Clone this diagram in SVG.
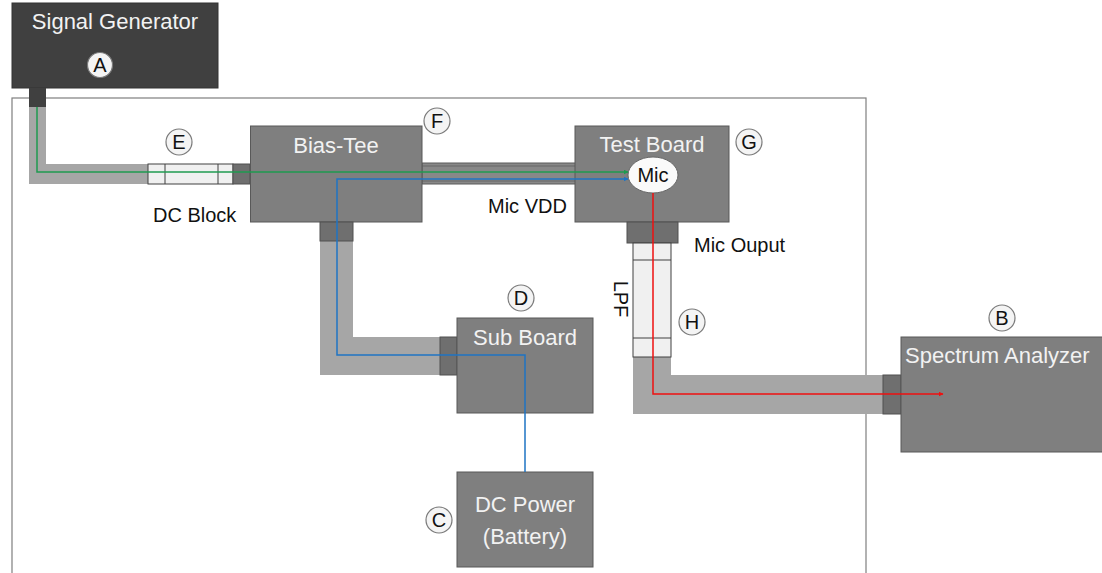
<svg xmlns="http://www.w3.org/2000/svg" width="1102" height="573" viewBox="0 0 1102 573">
<style>
.box{fill:#7f7f7f;stroke:#595959;stroke-width:1}
.dark{fill:#404040;stroke:#333;stroke-width:1}
.stub{fill:#6f6f6f;stroke:#505050;stroke-width:1}
.cable{fill:#a6a6a6}
.filt{fill:#f0f0f0;stroke:#404040;stroke-width:1}
.lbl{font-family:"Liberation Sans",Arial,sans-serif;font-size:22px;fill:#f2f2f2;text-anchor:middle}
.lbs{font-family:"Liberation Sans",Arial,sans-serif;font-size:22px;fill:#f2f2f2;text-anchor:start}
.txt{font-family:"Liberation Sans",Arial,sans-serif;font-size:20px;fill:#111}
.cl{fill:#f4f4f4;stroke:#7a7a7a;stroke-width:1.2}
.ct{font-family:"Liberation Sans",Arial,sans-serif;font-size:20px;fill:#111;text-anchor:middle}
.w{fill:none;stroke-width:1.5}
</style>
<defs>
<marker id="ag" viewBox="0 0 10 10" refX="9" refY="5" markerWidth="5" markerHeight="5" orient="auto" markerUnits="userSpaceOnUse"><path d="M0,0L10,5L0,10z" fill="#1f9a50"/></marker>
<marker id="ab" viewBox="0 0 10 10" refX="9" refY="5" markerWidth="5" markerHeight="5" orient="auto" markerUnits="userSpaceOnUse"><path d="M0,0L10,5L0,10z" fill="#1f74c4"/></marker>
<marker id="ar" viewBox="0 0 10 10" refX="9" refY="5" markerWidth="5" markerHeight="5" orient="auto" markerUnits="userSpaceOnUse"><path d="M0,0L10,5L0,10z" fill="#ee1111"/></marker>
</defs>
<rect width="1102" height="573" fill="#fff"/>
<rect x="12" y="98" width="854" height="480" fill="none" stroke="#7f7f7f" stroke-width="1.2"/>

<g id="cables">
<path class="cable" d="M29,107H46V164H148V184H29Z"/>
<path class="cable" d="M320,241H353V337H440V375H320Z"/>
<path class="cable" d="M633,357H671V375H883V414H633Z"/>
<rect x="422" y="163" width="154" height="21" fill="#888" stroke="#5a5a5a"/>
<line x1="422" y1="166" x2="576" y2="166" stroke="#666"/>
<line x1="422" y1="181" x2="576" y2="181" stroke="#666"/>
</g>

<g id="E">
<rect class="filt" x="148" y="164" width="85" height="20"/>
<line x1="165" y1="164" x2="165" y2="184" stroke="#404040"/>
<line x1="218" y1="164" x2="218" y2="184" stroke="#404040"/>
<rect class="stub" x="233" y="164" width="17" height="20"/>
<circle class="cl" cx="179" cy="142" r="13"/><text class="ct" x="179" y="149">E</text>
<text class="txt" x="153" y="222">DC Block</text>
</g>

<g id="A">
<rect class="dark" x="12" y="3" width="206" height="85"/>
<rect x="29" y="88" width="17" height="19" fill="#404040"/>
<text class="lbl" x="115" y="29">Signal Generator</text>
<circle class="cl" cx="100" cy="65" r="12.5"/><text class="ct" x="100" y="72">A</text>
</g>

<g id="F">
<rect class="box" x="250.5" y="126" width="171.5" height="96"/>
<text class="lbl" x="336" y="153">Bias-Tee</text>
<rect class="stub" x="320" y="222" width="33" height="19"/>
<circle class="cl" cx="437" cy="121" r="13"/><text class="ct" x="437" y="128">F</text>
</g>

<g id="G">
<rect class="box" x="575" y="126" width="154" height="96"/>
<text class="lbl" x="652" y="152">Test Board</text>
<ellipse cx="653" cy="175" rx="25" ry="18" fill="#fafafa" stroke="#666" stroke-width="1"/>
<text class="txt" x="653" y="182" text-anchor="middle">Mic</text>
<rect class="stub" x="627" y="222" width="51" height="21"/>
<circle class="cl" cx="749" cy="142" r="13"/><text class="ct" x="749" y="149">G</text>
<text class="txt" x="488" y="213">Mic VDD</text>
<text class="txt" x="694" y="252">Mic Ouput</text>
</g>

<g id="H">
<rect class="filt" x="633" y="243" width="38" height="114"/>
<line x1="633" y1="260" x2="671" y2="260" stroke="#404040"/>
<line x1="633" y1="338" x2="671" y2="338" stroke="#404040"/>
<text class="txt" x="0" y="0" text-anchor="middle" transform="translate(614,299) rotate(90)">LPF</text>
<circle class="cl" cx="692" cy="322" r="13"/><text class="ct" x="692" y="329">H</text>
</g>

<g id="D">
<rect class="stub" x="440" y="337" width="17" height="38"/>
<rect class="box" x="457" y="318" width="136" height="95"/>
<text class="lbl" x="525" y="345">Sub Board</text>
<circle class="cl" cx="521" cy="298" r="13"/><text class="ct" x="521" y="305">D</text>
</g>

<g id="C">
<rect class="box" x="457" y="472" width="136" height="95"/>
<text class="lbl" x="525" y="512">DC Power</text>
<text class="lbl" x="525" y="544">(Battery)</text>
<circle class="cl" cx="439" cy="520" r="13"/><text class="ct" x="439" y="527">C</text>
</g>

<g id="B">
<rect class="stub" x="883" y="375" width="18" height="39"/>
<rect class="box" x="901" y="337" width="210" height="115"/>
<text class="lbs" x="905" y="363">Spectrum Analyzer</text>
<circle class="cl" cx="1002" cy="318" r="13"/><text class="ct" x="1002" y="325">B</text>
</g>

<g id="connectors">
<path class="w" stroke="#1f9a50" d="M37,107V172H628" marker-end="url(#ag)"/>
<path class="w" stroke="#1f74c4" d="M525,472V355H337V179H628" marker-end="url(#ab)"/>
<path class="w" stroke="#ee1111" d="M653,193V394H943" marker-end="url(#ar)"/>
</g>
</svg>
